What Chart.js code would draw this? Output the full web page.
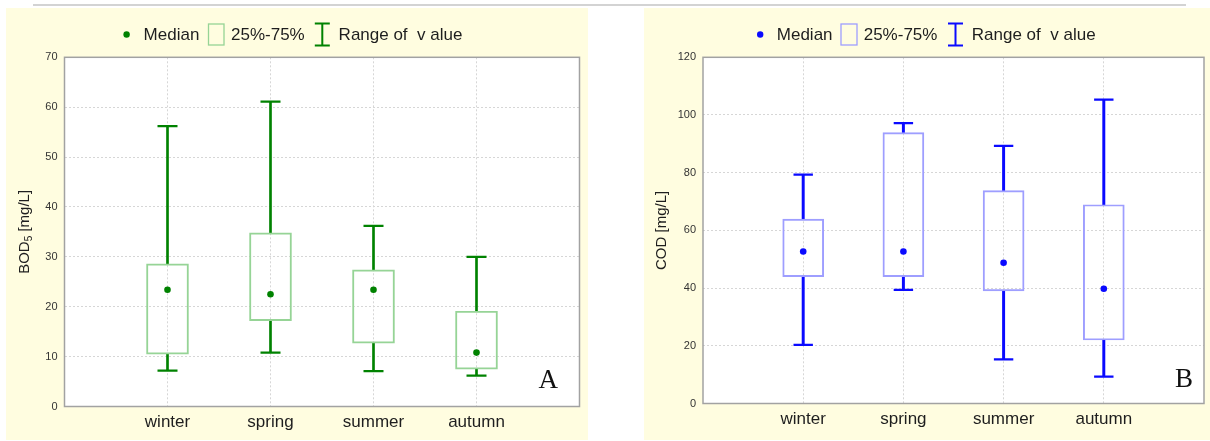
<!DOCTYPE html>
<html>
<head>
<meta charset="utf-8">
<script src="https://cdn.jsdelivr.net/npm/chart.js@4.4.1/dist/chart.umd.min.js"></script>
<style>
  html, body { margin: 0; padding: 0; background: #ffffff; }
  body { width: 1210px; height: 441px; position: relative; overflow: hidden; font-family: "Liberation Sans", Arial, sans-serif; }
  .rule { position: absolute; left: 33px; top: 4px; width: 1153px; height: 2px; background: #d3d3d3; }
  .panel { position: absolute; top: 8px; height: 432px; }
  #panelA { left: 6px; width: 582px; }
  #panelB { left: 644px; width: 566px; }
</style>
</head>
<body>
<div class="rule"></div>
<div class="panel" id="panelA"><canvas id="chartA" width="582" height="432"></canvas></div>
<div class="panel" id="panelB"><canvas id="chartB" width="566" height="432"></canvas></div>
<script>
// Seasons on the category axis
const seasons = ['winter', 'spring', 'summer', 'autumn'];

// BOD5 [mg/L] per season: range, quartiles, median
const bodMin    = [7.2, 10.8, 7.1, 6.2];
const bodQ1     = [10.5, 17.2, 12.7, 7.5];
const bodMedian = [23.4, 22.5, 23.4, 10.8];
const bodQ3     = [28.6, 34.8, 27.4, 19.1];
const bodMax    = [56.2, 61.1, 36.2, 30.0];

// COD [mg/L] per season: range, quartiles, median
const codMin    = [20.3, 39.4, 15.3, 9.3];
const codQ1     = [44.0, 44.0, 39.0, 22.0];
const codMedian = [52.7, 52.7, 48.8, 39.8];
const codQ3     = [63.9, 93.9, 73.8, 68.9];
const codMax    = [79.3, 97.2, 89.3, 105.3];

// Value axis extents and tick steps
const bodAxis = [0, 70, 10];
const codAxis = [0, 120, 20];

// Legend entries
const legendLabels = ['Median', '25%-75%', 'Range of  v alue'];

const CREAM = '#fffde0';
const GRID = '#d6d6d6';
const FONT = '"Liberation Sans", Arial, sans-serif';

// blank slots at both ends put the seasons at 1/5 .. 4/5 of the width
const xLabels = ['', ...seasons, ''];
const pad = arr => [null, ...arr, null];

function boxChart(canvasId, s) {
  const decor = {
    id: 'decor',
    beforeDraw(chart) {
      const { ctx, chartArea: a } = chart;
      ctx.save();
      ctx.fillStyle = CREAM;
      ctx.fillRect(0, 0, chart.width, chart.height);
      ctx.fillStyle = '#ffffff';
      ctx.fillRect(a.left, a.top, a.right - a.left, a.bottom - a.top);
      ctx.restore();
    },
    afterDraw(chart) {
      const { ctx, chartArea: a } = chart;
      ctx.save();
      // plot frame
      ctx.strokeStyle = '#a2a2a2';
      ctx.lineWidth = 1.5;
      ctx.strokeRect(a.left, a.top, a.right - a.left, a.bottom - a.top);

      // legend
      const L = s.legend;
      const cy = L.cy;
      ctx.fillStyle = s.dark;
      ctx.beginPath();
      ctx.arc(L.dot, cy, 3.2, 0, Math.PI * 2);
      ctx.fill();
      ctx.font = '17px ' + FONT;
      ctx.fillStyle = '#1e1e1e';
      ctx.textBaseline = 'middle';
      ctx.textAlign = 'left';
      ctx.fillText(legendLabels[0], L.t1, cy + 1);
      ctx.strokeStyle = s.light;
      ctx.lineWidth = 1.3;
      ctx.strokeRect(L.box, cy - 10.5, L.boxW, 21);
      ctx.fillText(legendLabels[1], L.t2, cy + 1);
      ctx.strokeStyle = s.dark;
      ctx.lineWidth = 2;
      ctx.beginPath();
      ctx.moveTo(L.bar, cy - 11); ctx.lineTo(L.bar, cy + 11);
      ctx.moveTo(L.bar - 7.5, cy - 11); ctx.lineTo(L.bar + 7.5, cy - 11);
      ctx.moveTo(L.bar - 7.5, cy + 11); ctx.lineTo(L.bar + 7.5, cy + 11);
      ctx.stroke();
      ctx.fillText(legendLabels[2], L.t3, cy + 1);

      // rotated axis title, with optional subscript
      ctx.translate(s.titleX, (a.top + a.bottom) / 2);
      ctx.rotate(-Math.PI / 2);
      ctx.fillStyle = '#1e1e1e';
      ctx.textBaseline = 'middle';
      ctx.textAlign = 'left';
      const big = '15px ' + FONT, small = '10px ' + FONT;
      ctx.font = big;
      const w1 = ctx.measureText(s.title[0]).width;
      ctx.font = small;
      const w2 = s.title[1] ? ctx.measureText(s.title[1]).width : 0;
      ctx.font = big;
      const w3 = ctx.measureText(s.title[2]).width;
      let x = -(w1 + w2 + w3) / 2;
      ctx.fillText(s.title[0], x, 0); x += w1;
      if (s.title[1]) { ctx.font = small; ctx.fillText(s.title[1], x, 4); x += w2; ctx.font = big; }
      ctx.fillText(s.title[2], x, 0);
      ctx.setTransform(1, 0, 0, 1, 0, 0);

      // panel letter
      ctx.font = '27px "Liberation Serif", "Times New Roman", serif';
      ctx.fillStyle = '#111';
      ctx.textAlign = 'center';
      ctx.textBaseline = 'middle';
      ctx.fillText(s.letter, s.letterX, s.letterY);
      ctx.restore();
    }
  };

  const yMax = s.axis[1];
  return new Chart(document.getElementById(canvasId), {
    type: 'bar',
    data: {
      labels: xLabels,
      datasets: [
        { data: pad(s.min.map((v, i) => [v, s.q1[i]])), backgroundColor: s.dark, borderWidth: 0, barThickness: s.whiskerW, grouped: false, order: 3 },
        { data: pad(s.q3.map((v, i) => [v, s.max[i]])), backgroundColor: s.dark, borderWidth: 0, barThickness: s.whiskerW, grouped: false, order: 3 },
        { data: pad(s.q1.map((v, i) => [v, s.q3[i]])), backgroundColor: 'rgba(0,0,0,0)', borderColor: s.light, borderWidth: 1.3, borderSkipped: false, barThickness: s.boxW, grouped: false, order: 2 },
        { type: 'line', data: pad(s.max), showLine: false, pointStyle: 'line', pointRadius: s.capR, pointBorderWidth: 2.2, pointBorderColor: s.dark, borderColor: s.dark, order: 1 },
        { type: 'line', data: pad(s.min), showLine: false, pointStyle: 'line', pointRadius: s.capR, pointBorderWidth: 2.2, pointBorderColor: s.dark, borderColor: s.dark, order: 1 },
        { type: 'line', data: pad(s.median), showLine: false, pointStyle: 'circle', pointRadius: 3.3, pointBackgroundColor: s.dark, pointBorderWidth: 0, borderColor: s.dark, order: 0 }
      ]
    },
    options: {
      responsive: false,
      animation: false,
      events: [],
      layout: { autoPadding: false, padding: { top: s.frame.top, right: s.frame.right, left: 0, bottom: 0 } },
      plugins: { legend: { display: false }, tooltip: { enabled: false } },
      scales: {
        x: {
          type: 'category',
          offset: false,
          grid: {
            offset: false,
            drawTicks: false,
            lineWidth: 1,
            color: c => (c.index === 0 || c.index === xLabels.length - 1) ? 'rgba(0,0,0,0)' : GRID
          },
          border: { display: false, dash: [2, 2] },
          ticks: { autoSkip: false, maxRotation: 0, padding: 6, color: '#1e1e1e', font: { family: FONT, size: 17 } },
          afterFit: sc => { sc.height = s.frame.bottomSpace; }
        },
        y: {
          min: s.axis[0],
          max: yMax,
          grid: {
            drawTicks: false,
            lineWidth: 1,
            color: c => (c.tick.value === 0 || c.tick.value === yMax) ? 'rgba(0,0,0,0)' : GRID
          },
          border: { display: false, dash: [2, 2] },
          ticks: { stepSize: s.axis[2], padding: 7, color: '#333', font: { family: FONT, size: 11 } },
          afterFit: sc => { sc.width = s.frame.left; }
        }
      }
    },
    plugins: [decor]
  });
}

boxChart('chartA', {
  min: bodMin, q1: bodQ1, median: bodMedian, q3: bodQ3, max: bodMax,
  axis: bodAxis,
  dark: '#008200', light: '#96d496',
  boxW: 42, whiskerW: 2, capR: 10,
  frame: { left: 58.5, top: 49.3, right: 8.5, bottomSpace: 33.5 },
  title: ['BOD', '5', ' [mg/L]'], titleX: 19,
  legend: { cy: 26.5, dot: 120.6, t1: 137.6, box: 202.5, boxW: 15.5, t2: 225, bar: 316.3, t3: 332.6 },
  letter: 'A', letterX: 542.3, letterY: 373
});

boxChart('chartB', {
  min: codMin, q1: codQ1, median: codMedian, q3: codQ3, max: codMax,
  axis: codAxis,
  dark: '#0a0aff', light: '#9e9eff',
  boxW: 41, whiskerW: 2.3, capR: 9.7,
  frame: { left: 59, top: 49.3, right: 4, bottomSpace: 36.5 },
  title: ['COD', '', ' [mg/L]'], titleX: 17.7,
  legend: { cy: 26.5, dot: 116.2, t1: 132.8, box: 197, boxW: 16, t2: 219.7, bar: 311.5, t3: 327.8 },
  letter: 'B', letterX: 540, letterY: 372
});
</script>
</body>
</html>
